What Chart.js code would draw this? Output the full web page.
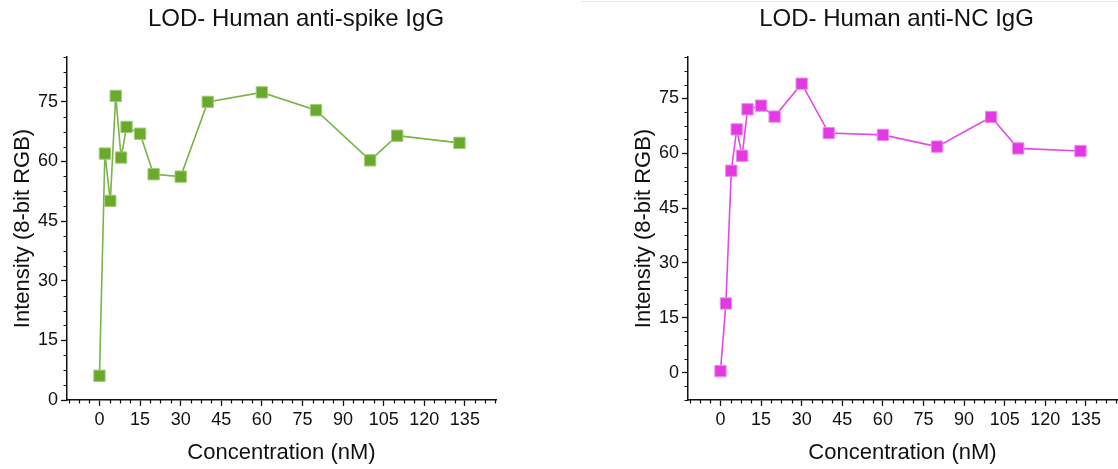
<!DOCTYPE html>
<html>
<head>
<meta charset="utf-8">
<script src="https://cdn.jsdelivr.net/npm/chart.js@4.4.1/dist/chart.umd.min.js"></script>
<style>
  html, body { margin: 0; padding: 0; background: #fff; overflow: hidden; }
  body { width: 1118px; height: 469px; position: relative; }
  .box { position: absolute; top: 0; height: 469px; }
  #leftBox { left: 0; width: 592px; }
  #rightBox { left: 600px; width: 572px; }
  .rule { position: absolute; top: 1px; left: 581px; right: 0; height: 1px; background: #e8e8e8; }
</style>
</head>
<body>
<div class="rule"></div>
<div class="box" id="leftBox"><canvas id="spikeChart"></canvas></div>
<div class="box" id="rightBox"><canvas id="ncChart"></canvas></div>
<script>
  // concentration (nM) shared by both panels
  const concentrations = [0, 2, 4, 6, 8, 10, 15, 20, 30, 40, 60, 80, 100, 110, 133];
  const spikeIntensity = [6.1, 62.0, 50.1, 76.5, 61.0, 68.7, 67.0, 56.8, 56.2, 75.0, 77.4, 72.9, 60.3, 66.5, 64.7];
  const ncIntensity = [0.4, 18.9, 55.2, 66.5, 59.3, 72.0, 73.0, 70.0, 79.0, 65.5, 65.0, 61.8, 69.9, 61.3, 60.6];

  const xTicks = [0, 15, 30, 45, 60, 75, 90, 105, 120, 135];
  const yTicks = [0, 15, 30, 45, 60, 75];
  const minorStep = 3.75;

  const FONT = "'Liberation Sans', Arial, sans-serif";
  const INK = '#111111';

  // short ticks between the labelled ones
  const minorTicks = {
    id: 'minorTicks',
    afterDraw(chart) {
      const ctx = chart.ctx;
      const { x, y } = chart.scales;
      const area = chart.chartArea;
      ctx.save();
      ctx.strokeStyle = INK;
      ctx.lineWidth = 1.2;
      ctx.beginPath();
      for (let v = Math.ceil(x.min / minorStep) * minorStep; v <= x.max + 1e-6; v += minorStep) {
        if (Math.abs(v % 15) < 1e-6) continue;
        const px = Math.round(x.getPixelForValue(v)) + 0.5;
        ctx.moveTo(px, area.bottom);
        ctx.lineTo(px, area.bottom + 3.5);
      }
      for (let v = Math.ceil(y.min / minorStep) * minorStep; v <= y.max + 1e-6; v += minorStep) {
        if (Math.abs(v % 15) < 1e-6) continue;
        const py = Math.round(y.getPixelForValue(v)) + 0.5;
        ctx.moveTo(area.left, py);
        ctx.lineTo(area.left - 3.5, py);
      }
      ctx.stroke();
      ctx.restore();
    }
  };

  function makeChart(id, title, values, colors, yMin, padLeft, padRight) {
    const points = concentrations.map((c, i) => ({ x: c, y: values[i] }));
    return new Chart(document.getElementById(id), {
      type: 'scatter',
      data: {
        datasets: [{
          data: points,
          showLine: true,
          borderColor: colors.line,
          borderWidth: 1.6,
          pointStyle: 'rect',
          pointRadius: 8,
          pointBackgroundColor: colors.fill,
          pointBorderColor: colors.edge,
          pointBorderWidth: 1
        }]
      },
      options: {
        responsive: true,
        maintainAspectRatio: false,
        animation: false,
        layout: { padding: { left: padLeft, right: 0, top: 0, bottom: 0 } },
        plugins: {
          legend: { display: false },
          tooltip: { enabled: false },
          title: {
            display: true,
            text: title,
            color: INK,
            font: { family: FONT, size: 24, weight: 'normal' },
            padding: { top: 5, bottom: 23.2 }
          }
        },
        scales: {
          x: {
            type: 'linear',
            min: -12,
            max: 146.5,
            afterBuildTicks: s => { s.ticks = xTicks.map(v => ({ value: v })); },
            afterFit: s => { s.height = 69; },
            grid: { drawOnChartArea: false, drawTicks: true, tickLength: 6, tickColor: INK, tickWidth: 1.3 },
            border: { color: INK, width: 1.5 },
            ticks: { color: INK, font: { family: FONT, size: 18 }, padding: 3, maxRotation: 0, autoSkip: false },
            title: {
              display: true,
              text: 'Concentration (nM)',
              color: INK,
              font: { family: FONT, size: 22 },
              padding: { top: 0, bottom: 3 }
            }
          },
          y: {
            type: 'linear',
            min: yMin,
            max: 86.3,
            afterBuildTicks: s => { s.ticks = yTicks.map(v => ({ value: v })); },
            afterFit: s => { s.width = 67; },
            grid: { drawOnChartArea: false, drawTicks: true, tickLength: 6, tickColor: INK, tickWidth: 1.3 },
            border: { color: INK, width: 1.5 },
            ticks: { color: INK, font: { family: FONT, size: 18 }, padding: 3 },
            title: {
              display: true,
              text: 'Intensity (8-bit RGB)',
              color: INK,
              font: { family: FONT, size: 22 },
              padding: { top: 10, bottom: 0 }
            }
          },
          // empty right-hand spacer so the title stays centred on the panel
          spacer: {
            type: 'linear',
            position: 'right',
            display: true,
            grid: { display: false },
            border: { display: false },
            ticks: { display: false },
            afterFit: s => { s.width = padRight; }
          }
        }
      },
      plugins: [minorTicks]
    });
  }

  makeChart('spikeChart', 'LOD- Human anti-spike IgG', spikeIntensity,
    { line: '#78b446', fill: '#6aa92e', edge: '#9fcc74' }, 0, 0, 96);
  makeChart('ncChart', 'LOD- Human anti-NC IgG', ncIntensity,
    { line: '#e548e5', fill: '#e23ae2', edge: '#f08af0' }, -7.5, 21, 55);
</script>
</body>
</html>
